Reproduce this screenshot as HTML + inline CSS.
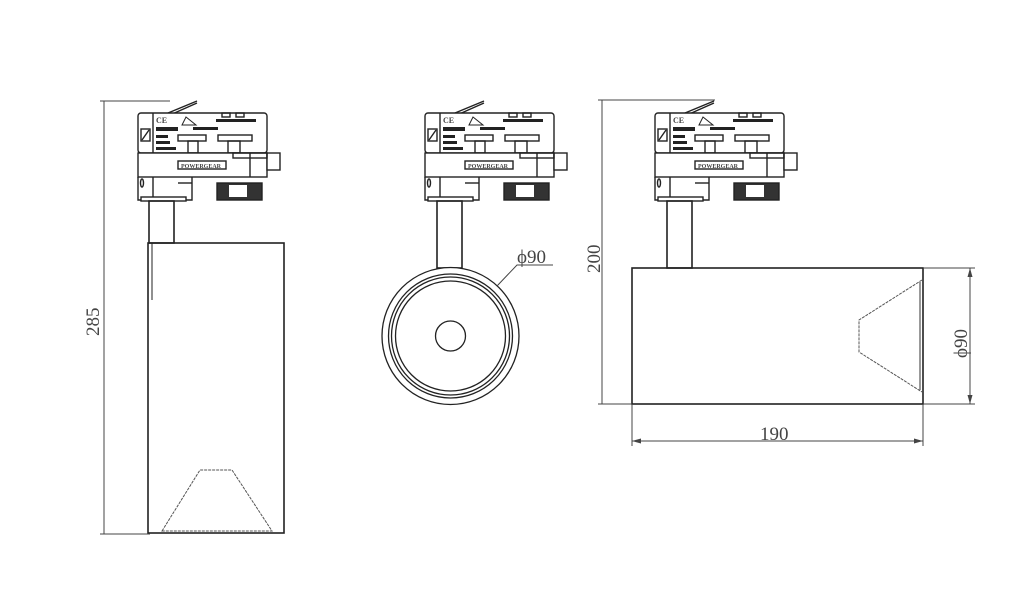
<!DOCTYPE html>
<html><head><style>
html,body{margin:0;padding:0;background:#fff;}
svg{display:block;}
text{font-family:"Liberation Serif",serif;fill:#444;}
</style></head><body>
<svg width="1024" height="601" viewBox="0 0 1024 601" xmlns="http://www.w3.org/2000/svg">
<defs>
<g id="ad" fill="none" stroke="#222" stroke-width="1.4">
  <line x1="30" y1="0" x2="59" y2="-12"/>
  <line x1="32" y1="2" x2="59" y2="-10"/>
  <rect x="0" y="0" width="129" height="40" rx="3" fill="#fff"/>
  <line x1="15" y1="0" x2="15" y2="87"/>
  <rect x="3" y="16" width="9" height="12"/>
  <line x1="4" y1="27" x2="11" y2="17"/>
  <text x="18" y="10" font-size="8" font-family="Liberation Sans" fill="#222" stroke="none" font-weight="bold">CE</text>
  <path d="M48 4 L58 12 L44 12 Z" stroke-width="1"/>
  <rect x="18" y="14" width="22" height="4" fill="#222" stroke="none"/>
  <rect x="18" y="22" width="12" height="3" fill="#222" stroke="none"/>
  <rect x="18" y="28" width="14" height="3" fill="#222" stroke="none"/>
  <rect x="18" y="34" width="20" height="3" fill="#222" stroke="none"/>
  <rect x="55" y="14" width="25" height="3" fill="#222" stroke="none"/>
  <rect x="78" y="6" width="40" height="3" fill="#222" stroke="none"/>
  <rect x="84" y="0" width="8" height="4"/><rect x="98" y="0" width="8" height="4"/>
  <rect x="40" y="22" width="28" height="6"/><rect x="50" y="28" width="10" height="12"/>
  <rect x="80" y="22" width="34" height="6"/><rect x="90" y="28" width="12" height="12"/>
  <rect x="0" y="40" width="129" height="24" fill="#fff"/>
  <rect x="40" y="48" width="48" height="8"/>
  <text x="43" y="55" font-size="6" font-family="Liberation Sans" fill="#222" stroke="none" font-weight="bold">POWERGEAR</text>
  <line x1="112" y1="40" x2="112" y2="64"/>
  <rect x="129" y="40" width="13" height="17" fill="#fff"/>
  <rect x="95" y="40" width="34" height="5"/>
  <path d="M0 64 V87 H54 V64"/>
  <ellipse cx="4" cy="70" rx="1.5" ry="4"/>
  <line x1="40" y1="70" x2="54" y2="70"/>
  <rect x="79" y="70" width="45" height="17" fill="#333"/>
  <rect x="91" y="72" width="18" height="12" fill="#fff" stroke="none"/>
  <rect x="3" y="84" width="45" height="4" fill="#fff"/>
</g>
</defs>

<!-- LEFT VIEW -->
<use href="#ad" x="138" y="113"/>
<rect x="149" y="201" width="25" height="42" fill="none" stroke="#222" stroke-width="1.6"/>
<rect x="148" y="243" width="136" height="290" fill="none" stroke="#222" stroke-width="1.6"/>
<line x1="152" y1="243" x2="152" y2="300" stroke="#222" stroke-width="1"/>
<path d="M162 531 L200 470 L232 470 L272 531 Z" fill="none" stroke="#555" stroke-width="1" stroke-dasharray="3 1"/>
<g stroke="#444" stroke-width="1" fill="none">
<line x1="100" y1="101" x2="170" y2="101"/>
<line x1="100" y1="534" x2="150" y2="534"/>
<line x1="104" y1="101" x2="104" y2="534"/>
</g>
<text x="0" y="0" font-size="19" transform="translate(99,336) rotate(-90)">285</text>

<!-- MIDDLE VIEW -->
<use href="#ad" x="425" y="113"/>
<rect x="437" y="201" width="25" height="67" fill="none" stroke="#222" stroke-width="1.6"/>
<g fill="none" stroke="#222" stroke-width="1.3">
<circle cx="450.5" cy="336" r="68.5" fill="#fff"/>
<circle cx="450.5" cy="336" r="62"/>
<circle cx="450.5" cy="336" r="59"/>
<circle cx="450.5" cy="336" r="55"/>
<circle cx="450.5" cy="336" r="15"/>
<polyline points="497,286 517,265 553,265" stroke="#444" stroke-width="1"/>
</g>
<text x="517" y="263" font-size="19">ϕ90</text>

<!-- RIGHT VIEW -->
<use href="#ad" x="655" y="113"/>
<rect x="667" y="201" width="25" height="67" fill="none" stroke="#222" stroke-width="1.6"/>
<rect x="632" y="268" width="291" height="136" fill="none" stroke="#222" stroke-width="1.6"/>
<path d="M922 280 L859 320 L859 352 L922 392" fill="none" stroke="#555" stroke-width="1" stroke-dasharray="3 1"/>
<line x1="920" y1="282" x2="920" y2="390" stroke="#555" stroke-width="1.2"/>
<g stroke="#444" stroke-width="1" fill="none">
<line x1="598" y1="100" x2="715" y2="100"/>
<line x1="598" y1="404" x2="632" y2="404"/>
<line x1="602" y1="100" x2="602" y2="404"/>
<line x1="632" y1="404" x2="632" y2="446"/>
<line x1="923" y1="404" x2="923" y2="446"/>
<line x1="632" y1="441" x2="923" y2="441"/>
<line x1="923" y1="268" x2="975" y2="268"/>
<line x1="923" y1="404" x2="975" y2="404"/>
<line x1="970" y1="268" x2="970" y2="404"/>
</g>
<g fill="#444">
<path d="M632 441 l9 -2.5 v5 z"/><path d="M923 441 l-9 -2.5 v5 z"/>
<path d="M970 268 l-2.5 9 h5 z"/><path d="M970 404 l-2.5 -9 h5 z"/>
</g>
<text x="0" y="0" font-size="19" transform="translate(600,273) rotate(-90)">200</text>
<text x="760" y="440" font-size="19">190</text>
<text x="0" y="0" font-size="19" transform="translate(967,358) rotate(-90)">ϕ90</text>
</svg>
</body></html>
